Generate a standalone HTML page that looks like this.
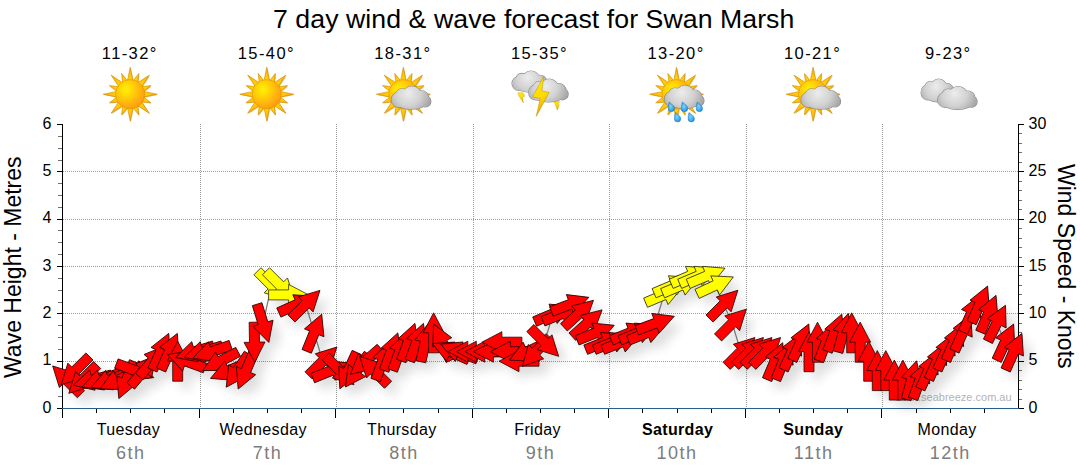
<!DOCTYPE html>
<html><head><meta charset="utf-8"><title>7 day wind &amp; wave forecast for Swan Marsh</title>
<style>
html,body{margin:0;padding:0;background:#fff;}
body{width:1080px;height:475px;position:relative;overflow:hidden;font-family:"Liberation Sans",sans-serif;color:#000;}
.t{position:absolute;white-space:nowrap;line-height:1;}
.title{font-size:26.67px;letter-spacing:0.07px;left:273px;top:6.3px;width:520px;text-align:center;}
.temp{font-size:16.5px;letter-spacing:1.4px;width:80px;text-align:center;top:44.5px;}
.day{font-size:16px;letter-spacing:0.35px;width:120px;text-align:center;top:422px;}
.dt{font-size:18px;letter-spacing:1.5px;width:120px;text-align:center;top:443.5px;color:#7c7c7c;}
.yl{font-size:16px;width:30px;text-align:right;left:21.5px;}
.yr{font-size:16px;left:1028.5px;}
.axl{font-size:23px;transform-origin:0 0;}
svg{position:absolute;left:0;top:0;}
</style></head><body>
<div class="t title">7 day wind &amp; wave forecast for Swan Marsh</div>
<div class="t temp" style="left:89.8px">11-32°</div>
<div class="t day" style="left:68.4px">Tuesday</div>
<div class="t dt" style="left:70.8px">6th</div>
<div class="t temp" style="left:226.4px">15-40°</div>
<div class="t day" style="left:203.1px">Wednesday</div>
<div class="t dt" style="left:207.4px">7th</div>
<div class="t temp" style="left:362.9px">18-31°</div>
<div class="t day" style="left:341.8px">Thursday</div>
<div class="t dt" style="left:343.9px">8th</div>
<div class="t temp" style="left:499.5px">15-35°</div>
<div class="t day" style="left:477.6px">Friday</div>
<div class="t dt" style="left:480.5px">9th</div>
<div class="t temp" style="left:636.1px">13-20°</div>
<div class="t day" style="left:617.6px;font-weight:bold">Saturday</div>
<div class="t dt" style="left:617.1px">10th</div>
<div class="t temp" style="left:772.6px">10-21°</div>
<div class="t day" style="left:753.3px;font-weight:bold">Sunday</div>
<div class="t dt" style="left:753.6px">11th</div>
<div class="t temp" style="left:908.3px">9-23°</div>
<div class="t day" style="left:887px">Monday</div>
<div class="t dt" style="left:890.2px">12th</div>
<div class="t yl" style="top:399.7px">0</div>
<div class="t yl" style="top:352.4px">1</div>
<div class="t yl" style="top:305px">2</div>
<div class="t yl" style="top:257.7px">3</div>
<div class="t yl" style="top:210.4px">4</div>
<div class="t yl" style="top:163px">5</div>
<div class="t yl" style="top:115.7px">6</div>
<div class="t yr" style="top:399.7px">0</div>
<div class="t yr" style="top:352.4px">5</div>
<div class="t yr" style="top:305px">10</div>
<div class="t yr" style="top:257.7px">15</div>
<div class="t yr" style="top:210.4px">20</div>
<div class="t yr" style="top:163px">25</div>
<div class="t yr" style="top:115.7px">30</div>
<div class="t axl" style="left:2px;top:378px;transform:rotate(-90deg)">Wave Height - Metres</div>
<div class="t axl" style="left:1077.3px;top:164px;transform:rotate(90deg)">Wind Speed - Knots</div>
<svg width="1080" height="475" viewBox="0 0 1080 475">
<defs>
<path id="a" d="M-20-5H0V-10.5L20 0 0 10.5V5H-20Z"/>
<path id="h" d="M0-10.5L20 0 0 10.5Z"/>
<filter id="sh" x="-5%" y="-20%" width="110%" height="150%"><feGaussianBlur stdDeviation="5.5"/></filter>
<style>.y{fill:#ff0;stroke:#33330a}</style>
</defs>
<path d="M63 361.5H1018M63 313.5H1018M63 266.5H1018M63 219.5H1018M63 171.5H1018M200.5 124V408M336.5 124V408M473.5 124V408M609.5 124V408M746.5 124V408M882.5 124V408" stroke="#9a9a9a" stroke-width="1" stroke-dasharray="1 1" fill="none" shape-rendering="crispEdges"/>
<defs><radialGradient id="disc" cx="0.36" cy="0.34" r="0.72"><stop offset="0" stop-color="#fff200"/><stop offset="0.45" stop-color="#ffc90a"/><stop offset="1" stop-color="#ff9616"/></radialGradient><radialGradient id="ray" gradientUnits="userSpaceOnUse" cx="0" cy="0" r="27"><stop offset="0.5" stop-color="#ffd400"/><stop offset="1" stop-color="#ffab10"/></radialGradient><radialGradient id="cg" gradientUnits="userSpaceOnUse" cx="5" cy="-1" r="25"><stop offset="0" stop-color="#ececec"/><stop offset="0.5" stop-color="#d2d2d2"/><stop offset="1" stop-color="#9f9f9f"/></radialGradient><linearGradient id="bolt" x1="0" y1="0" x2="0.3" y2="1"><stop offset="0" stop-color="#ffe800"/><stop offset="0.6" stop-color="#ffdc00"/><stop offset="1" stop-color="#f0a000"/></linearGradient><radialGradient id="drop" cx="0.4" cy="0.45" r="0.7"><stop offset="0" stop-color="#7fd4ff"/><stop offset="1" stop-color="#1188d8"/></radialGradient><g id="sun"><path d="M-2.81 -13.2 0 -27 2.81 -13.2 2.65 -13.24 8.61 -20.79 7.49 -11.23 7.35 -11.33 19.09 -19.09 11.33 -7.35 11.23 -7.49 20.79 -8.61 13.24 -2.65 13.2 -2.81 27 0 13.2 2.81 13.24 2.65 20.79 8.61 11.23 7.49 11.33 7.35 19.09 19.09 7.35 11.33 7.49 11.23 8.61 20.79 2.65 13.24 2.81 13.2 0 27 -2.81 13.2 -2.65 13.24 -8.61 20.79 -7.49 11.23 -7.35 11.33 -19.09 19.09 -11.33 7.35 -11.23 7.49 -20.79 8.61 -13.24 2.65 -13.2 2.81 -27 0 -13.2 -2.81 -13.24 -2.65 -20.79 -8.61 -11.23 -7.49 -11.33 -7.35 -19.09 -19.09 -7.35 -11.33 -7.49 -11.23 -8.61 -20.79 -2.65 -13.24Z" fill="#c98200" opacity="0.55" transform="translate(0.7 0.8)"/><path d="M-2.81 -13.2 0 -27 2.81 -13.2 2.65 -13.24 8.61 -20.79 7.49 -11.23 7.35 -11.33 19.09 -19.09 11.33 -7.35 11.23 -7.49 20.79 -8.61 13.24 -2.65 13.2 -2.81 27 0 13.2 2.81 13.24 2.65 20.79 8.61 11.23 7.49 11.33 7.35 19.09 19.09 7.35 11.33 7.49 11.23 8.61 20.79 2.65 13.24 2.81 13.2 0 27 -2.81 13.2 -2.65 13.24 -8.61 20.79 -7.49 11.23 -7.35 11.33 -19.09 19.09 -11.33 7.35 -11.23 7.49 -20.79 8.61 -13.24 2.65 -13.2 2.81 -27 0 -13.2 -2.81 -13.24 -2.65 -20.79 -8.61 -11.23 -7.49 -11.33 -7.35 -19.09 -19.09 -7.35 -11.33 -7.49 -11.23 -8.61 -20.79 -2.65 -13.24Z" fill="url(#ray)" stroke="#cf8c00" stroke-width="0.6" stroke-linejoin="round"/><circle r="14.6" fill="url(#disc)" stroke="#e08a00" stroke-width="0.5"/></g><g id="cl"><g stroke="#8a8a8a" stroke-width="1.2" fill="none"><circle cx="-4.5" cy="5.5" r="7.4"/><circle cx="-1.5" cy="0.6" r="6"/><circle cx="8.5" cy="1.6" r="9.5"/><circle cx="18.3" cy="3.6" r="7"/><circle cx="21.9" cy="7.2" r="5.6"/><ellipse cx="8" cy="8.4" rx="15" ry="6.5"/></g><g fill="url(#cg)"><circle cx="-4.5" cy="5.5" r="7.4"/><circle cx="-1.5" cy="0.6" r="6"/><circle cx="8.5" cy="1.6" r="9.5"/><circle cx="18.3" cy="3.6" r="7"/><circle cx="21.9" cy="7.2" r="5.6"/><ellipse cx="8" cy="8.4" rx="15" ry="6.5"/></g></g><path id="dr" d="M-2.3-4.7C-0.4-3.2 3.2-1.1 3.2 1.7A3.2 3.2 0 0 1-3.2 1.7C-3.2-0.6-2.8-2.8-2.3-4.7Z" fill="url(#drop)" stroke="#0b6fb8" stroke-width="0.4"/></defs>
<use href="#sun" x="130.19" y="94.2"/>
<use href="#sun" x="266.76" y="94.2"/>
<use href="#sun" x="403.33" y="94.2"/><use href="#cl" x="403.33" y="94.2"/>
<use href="#sun" x="813.04" y="94.2"/><use href="#cl" x="813.04" y="94.2"/>
<g transform="translate(539.9 94.2)"><path d="M-22-1.5H-17L-15 2-17.5 2.6-16.5 8.8-20.8 2Z" fill="url(#bolt)" stroke="#c9a000" stroke-width="0.4"/><path d="M13.3 7 19.9 7.6 17.8 10.2 19.4 10.6 17.4 16 15.2 9.6Z" fill="url(#bolt)" stroke="#c9a000" stroke-width="0.4"/><use href="#cl" transform="translate(-16.8 -15.8) scale(0.93)"/><use href="#cl" transform="translate(0.7 -7.2)"/><path d="M4-18.3 -7.3 2.6 0.3 4.4 -3.7 22.2 9.3-1.8 1.9-3.3Z" fill="url(#bolt)" stroke="#b89400" stroke-width="0.5" stroke-linejoin="round"/></g>
<use href="#sun" x="676.47" y="94.2"/><use href="#cl" x="676.47" y="93.4"/><use href="#dr" x="671.37" y="106.8"/><use href="#dr" x="684.57" y="106.8"/><use href="#dr" x="699.37" y="106.8"/><use href="#dr" x="677.57" y="117.1"/><use href="#dr" x="691.27" y="117.1"/>
<use href="#cl" transform="translate(931.41 86.9) scale(0.87 1)"/><use href="#cl" x="949.61" y="94.4"/>
<text x="1011.6" y="400.6" font-size="11" fill="#b4b4b4" text-anchor="end" font-family="Liberation Sans, sans-serif">www.seabreeze.com.au</text>
<path d="M62.5 124V409M1018.5 124V409M57 408.5H63M57 361.5H63M57 313.5H63M57 266.5H63M57 219.5H63M57 171.5H63M57 124.5H63M1018 408.5H1024M1018 361.5H1024M1018 313.5H1024M1018 266.5H1024M1018 219.5H1024M1018 171.5H1024M1018 124.5H1024" stroke="#000" stroke-width="1" fill="none" shape-rendering="crispEdges"/>
<path d="M58 396.5H62M58 384.5H62M58 372.5H62M58 349.5H62M58 337.5H62M58 325.5H62M58 302.5H62M58 290.5H62M58 278.5H62M58 254.5H62M58 242.5H62M58 230.5H62M58 207.5H62M58 195.5H62M58 183.5H62M58 160.5H62M58 148.5H62M58 136.5H62M1019 399.5H1022M1019 389.5H1022M1019 380.5H1022M1019 370.5H1022M1019 351.5H1022M1019 342.5H1022M1019 332.5H1022M1019 323.5H1022M1019 304.5H1022M1019 294.5H1022M1019 285.5H1022M1019 275.5H1022M1019 257.5H1022M1019 247.5H1022M1019 238.5H1022M1019 228.5H1022M1019 209.5H1022M1019 200.5H1022M1019 190.5H1022M1019 181.5H1022M1019 162.5H1022M1019 152.5H1022M1019 143.5H1022M1019 133.5H1022" stroke="#6e6e6e" stroke-width="1" fill="none" shape-rendering="crispEdges"/>
<path d="M62 408.5H1019" stroke="#26608e" stroke-width="1" fill="none" shape-rendering="crispEdges"/>
<path d="M62.5 409V418M199.5 409V418M335.5 409V418M472.5 409V418M608.5 409V418M745.5 409V418M881.5 409V418M96.5 409V413M130.5 409V413M164.5 409V413M233.5 409V413M267.5 409V413M301.5 409V413M369.5 409V413M403.5 409V413M438.5 409V413M506.5 409V413M540.5 409V413M574.5 409V413M642.5 409V413M677.5 409V413M711.5 409V413M779.5 409V413M813.5 409V413M847.5 409V413M916.5 409V413M950.5 409V413M984.5 409V413" stroke="#000" stroke-width="1" fill="none" shape-rendering="crispEdges"/>
<g filter="url(#sh)" opacity="0.135" fill="#000" transform="translate(8 8)"><use href="#a" transform="translate(66.8 380.1) rotate(-135)"/><use href="#a" transform="translate(75.3 370.6) rotate(135)"/><use href="#a" transform="translate(83 379.2) rotate(135)"/><use href="#a" transform="translate(92.4 380.1) rotate(165)"/><use href="#a" transform="translate(100.9 380.1) rotate(160)"/><use href="#a" transform="translate(109.5 380.1) rotate(158)"/><use href="#a" transform="translate(118 380.1) rotate(154)"/><use href="#a" transform="translate(126.5 380.1) rotate(112.5)"/><use href="#a" transform="translate(135.1 370.6) rotate(20.6)"/><use href="#a" transform="translate(143.6 370.6) rotate(-50)"/><use href="#a" transform="translate(152.1 361.2) rotate(-50)"/><use href="#a" transform="translate(160.6 351.7) rotate(-66)"/><use href="#a" transform="translate(169.2 351.7) rotate(-66)"/><use href="#a" transform="translate(177.7 361.2) rotate(-90)"/><use href="#a" transform="translate(186.2 361.2) rotate(-160)"/><use href="#a" transform="translate(194.8 351.7) rotate(163)"/><use href="#a" transform="translate(203.3 351.7) rotate(163)"/><use href="#a" transform="translate(211.8 351.7) rotate(161)"/><use href="#a" transform="translate(220.4 361.2) rotate(152)"/><use href="#a" transform="translate(228.9 370.6) rotate(157)"/><use href="#a" transform="translate(237.4 370.6) rotate(124)"/><use href="#a" transform="translate(246 370.6) rotate(113)"/><use href="#a" transform="translate(254.5 342.2) rotate(89)"/><use href="#a" transform="translate(263 323.3) rotate(73)"/><use href="#a" transform="translate(271.6 285.4) rotate(45)"/><use href="#a" transform="translate(280.1 285.4) rotate(45)"/><use href="#a" transform="translate(288.6 294.9) rotate(0)"/><use href="#a" transform="translate(297.1 304.4) rotate(-24)"/><use href="#a" transform="translate(305.7 304.4) rotate(-44.5)"/><use href="#a" transform="translate(314.2 332.8) rotate(-68)"/><use href="#a" transform="translate(322.7 361.2) rotate(-45)"/><use href="#a" transform="translate(331.3 370.6) rotate(-22)"/><use href="#a" transform="translate(339.8 370.6) rotate(45)"/><use href="#a" transform="translate(348.3 370.6) rotate(115)"/><use href="#a" transform="translate(356.9 370.6) rotate(125)"/><use href="#a" transform="translate(365.4 361.2) rotate(139)"/><use href="#a" transform="translate(373.9 370.6) rotate(-135)"/><use href="#a" transform="translate(382.5 361.2) rotate(-70)"/><use href="#a" transform="translate(391 351.7) rotate(-70)"/><use href="#a" transform="translate(399.5 351.7) rotate(-70)"/><use href="#a" transform="translate(408.1 342.2) rotate(-70)"/><use href="#a" transform="translate(416.6 342.2) rotate(-70)"/><use href="#a" transform="translate(425.1 342.2) rotate(-78)"/><use href="#a" transform="translate(433.6 332.8) rotate(-90)"/><use href="#a" transform="translate(442.2 342.2) rotate(-115)"/><use href="#a" transform="translate(450.7 351.7) rotate(-156)"/><use href="#a" transform="translate(459.2 351.7) rotate(-158)"/><use href="#a" transform="translate(467.8 351.7) rotate(180)"/><use href="#a" transform="translate(476.3 351.7) rotate(180)"/><use href="#a" transform="translate(484.8 351.7) rotate(180)"/><use href="#a" transform="translate(493.4 351.7) rotate(180)"/><use href="#a" transform="translate(501.9 342.2) rotate(180)"/><use href="#a" transform="translate(510.4 351.7) rotate(180)"/><use href="#a" transform="translate(519 361.2) rotate(180)"/><use href="#a" transform="translate(527.5 351.7) rotate(155)"/><use href="#a" transform="translate(536 351.7) rotate(133)"/><use href="#a" transform="translate(544.5 342.2) rotate(45)"/><use href="#a" transform="translate(553.1 313.8) rotate(-23)"/><use href="#a" transform="translate(561.6 313.8) rotate(-22)"/><use href="#a" transform="translate(570.1 304.4) rotate(-20.7)"/><use href="#a" transform="translate(578.7 313.8) rotate(-42.4)"/><use href="#a" transform="translate(587.2 323.3) rotate(-42)"/><use href="#a" transform="translate(595.7 332.8) rotate(-22)"/><use href="#a" transform="translate(604.3 342.2) rotate(-22)"/><use href="#a" transform="translate(612.8 342.2) rotate(-22)"/><use href="#a" transform="translate(621.3 342.2) rotate(-22)"/><use href="#a" transform="translate(629.9 332.8) rotate(-22)"/><use href="#a" transform="translate(638.4 332.8) rotate(-22)"/><use href="#a" transform="translate(646.9 332.8) rotate(-22)"/><use href="#a" transform="translate(655.5 323.3) rotate(-20.4)"/><use href="#a" transform="translate(664 294.9) rotate(-23)"/><use href="#a" transform="translate(672.5 285.4) rotate(-23)"/><use href="#a" transform="translate(681 285.4) rotate(-23)"/><use href="#a" transform="translate(689.6 276) rotate(-23)"/><use href="#a" transform="translate(698.1 276) rotate(-23)"/><use href="#a" transform="translate(706.6 276) rotate(-23)"/><use href="#a" transform="translate(715.2 285.4) rotate(-25)"/><use href="#a" transform="translate(723.7 304.4) rotate(-45)"/><use href="#a" transform="translate(732.2 323.3) rotate(-45)"/><use href="#a" transform="translate(740.8 351.7) rotate(-45)"/><use href="#a" transform="translate(749.3 351.7) rotate(-45)"/><use href="#a" transform="translate(757.8 351.7) rotate(-45)"/><use href="#a" transform="translate(766.4 351.7) rotate(-45)"/><use href="#a" transform="translate(774.9 361.2) rotate(-67)"/><use href="#a" transform="translate(783.4 361.2) rotate(-68)"/><use href="#a" transform="translate(792 351.7) rotate(-65)"/><use href="#a" transform="translate(800.5 342.2) rotate(-65.5)"/><use href="#a" transform="translate(809 351.7) rotate(-90)"/><use href="#a" transform="translate(817.5 342.2) rotate(-90)"/><use href="#a" transform="translate(826.1 342.2) rotate(-69)"/><use href="#a" transform="translate(834.6 332.8) rotate(-69)"/><use href="#a" transform="translate(843.1 332.8) rotate(-75)"/><use href="#a" transform="translate(851.7 332.8) rotate(-90)"/><use href="#a" transform="translate(860.2 342.2) rotate(-90)"/><use href="#a" transform="translate(868.7 361.2) rotate(-90)"/><use href="#a" transform="translate(877.3 370.6) rotate(-90)"/><use href="#a" transform="translate(885.8 370.6) rotate(-90)"/><use href="#a" transform="translate(894.3 380.1) rotate(-90)"/><use href="#a" transform="translate(902.9 380.1) rotate(-90)"/><use href="#a" transform="translate(911.4 380.1) rotate(-75)"/><use href="#a" transform="translate(919.9 380.1) rotate(-70)"/><use href="#a" transform="translate(928.5 370.6) rotate(-66)"/><use href="#a" transform="translate(937 361.2) rotate(-66)"/><use href="#a" transform="translate(945.5 351.7) rotate(-66)"/><use href="#a" transform="translate(954 342.2) rotate(-66)"/><use href="#a" transform="translate(962.6 332.8) rotate(-66)"/><use href="#a" transform="translate(971.1 313.8) rotate(-66)"/><use href="#a" transform="translate(979.6 304.4) rotate(-66.4)"/><use href="#a" transform="translate(988.2 313.8) rotate(-67)"/><use href="#a" transform="translate(996.7 323.3) rotate(-64)"/><use href="#a" transform="translate(1005.2 342.2) rotate(-65)"/><use href="#a" transform="translate(1013.8 351.7) rotate(-66)"/></g>
<polyline points="66.8,380.1 75.3,370.6 83,379.2 92.4,380.1 100.9,380.1 109.5,380.1 118,380.1 126.5,380.1 135.1,370.6 143.6,370.6 152.1,361.2 160.6,351.7 169.2,351.7 177.7,361.2 186.2,361.2 194.8,351.7 203.3,351.7 211.8,351.7 220.4,361.2 228.9,370.6 237.4,370.6 246,370.6 254.5,342.2 263,323.3 271.6,285.4 280.1,285.4 288.6,294.9 297.1,304.4 305.7,304.4 314.2,332.8 322.7,361.2 331.3,370.6 339.8,370.6 348.3,370.6 356.9,370.6 365.4,361.2 373.9,370.6 382.5,361.2 391,351.7 399.5,351.7 408.1,342.2 416.6,342.2 425.1,342.2 433.6,332.8 442.2,342.2 450.7,351.7 459.2,351.7 467.8,351.7 476.3,351.7 484.8,351.7 493.4,351.7 501.9,342.2 510.4,351.7 519,361.2 527.5,351.7 536,351.7 544.5,342.2 553.1,313.8 561.6,313.8 570.1,304.4 578.7,313.8 587.2,323.3 595.7,332.8 604.3,342.2 612.8,342.2 621.3,342.2 629.9,332.8 638.4,332.8 646.9,332.8 655.5,323.3 664,294.9 672.5,285.4 681,285.4 689.6,276 698.1,276 706.6,276 715.2,285.4 723.7,304.4 732.2,323.3 740.8,351.7 749.3,351.7 757.8,351.7 766.4,351.7 774.9,361.2 783.4,361.2 792,351.7 800.5,342.2 809,351.7 817.5,342.2 826.1,342.2 834.6,332.8 843.1,332.8 851.7,332.8 860.2,342.2 868.7,361.2 877.3,370.6 885.8,370.6 894.3,380.1 902.9,380.1 911.4,380.1 919.9,380.1 928.5,370.6 937,361.2 945.5,351.7 954,342.2 962.6,332.8 971.1,313.8 979.6,304.4 988.2,313.8 996.7,323.3 1005.2,342.2 1013.8,351.7" fill="none" stroke="#767676" stroke-width="1.25"/>
<g fill="#f00" stroke="#2a0000" stroke-width="0.8" stroke-linejoin="miter"><use href="#a" transform="translate(66.8 380.1) rotate(-135)"/>
<use href="#a" transform="translate(75.3 370.6) rotate(135)"/>
<use href="#a" transform="translate(83 379.2) rotate(135)"/>
<use href="#a" transform="translate(92.4 380.1) rotate(165)"/>
<use href="#a" transform="translate(100.9 380.1) rotate(160)"/>
<use href="#a" transform="translate(109.5 380.1) rotate(158)"/>
<use href="#a" transform="translate(118 380.1) rotate(154)"/>
<use href="#a" transform="translate(126.5 380.1) rotate(112.5)"/>
<use href="#a" transform="translate(135.1 370.6) rotate(20.6)"/>
<use href="#a" transform="translate(143.6 370.6) rotate(-50)"/>
<use href="#a" transform="translate(152.1 361.2) rotate(-50)"/>
<use href="#a" transform="translate(160.6 351.7) rotate(-66)"/>
<use href="#a" transform="translate(169.2 351.7) rotate(-66)"/>
<use href="#a" transform="translate(177.7 361.2) rotate(-90)"/>
<use href="#a" transform="translate(186.2 361.2) rotate(-160)"/>
<use href="#a" transform="translate(194.8 351.7) rotate(163)"/>
<use href="#a" transform="translate(203.3 351.7) rotate(163)"/>
<use href="#a" transform="translate(211.8 351.7) rotate(161)"/>
<use href="#a" transform="translate(220.4 361.2) rotate(152)"/>
<use href="#a" transform="translate(228.9 370.6) rotate(157)"/>
<use href="#a" transform="translate(237.4 370.6) rotate(124)"/>
<use href="#a" transform="translate(246 370.6) rotate(113)"/>
<use href="#a" transform="translate(254.5 342.2) rotate(89)"/>
<use href="#a" transform="translate(263 323.3) rotate(73)"/>
<use href="#a" transform="translate(271.6 285.4) rotate(45)" class="y"/>
<use href="#a" transform="translate(280.1 285.4) rotate(45)" class="y"/>
<use href="#a" transform="translate(288.6 294.9) rotate(0)" class="y"/>
<use href="#a" transform="translate(297.1 304.4) rotate(-24)"/>
<use href="#a" transform="translate(305.7 304.4) rotate(-44.5)"/>
<use href="#a" transform="translate(314.2 332.8) rotate(-68)"/>
<use href="#a" transform="translate(322.7 361.2) rotate(-45)"/>
<use href="#a" transform="translate(331.3 370.6) rotate(-22)"/>
<use href="#a" transform="translate(339.8 370.6) rotate(45)"/>
<use href="#a" transform="translate(348.3 370.6) rotate(115)"/>
<use href="#a" transform="translate(356.9 370.6) rotate(125)"/>
<use href="#a" transform="translate(365.4 361.2) rotate(139)"/>
<use href="#a" transform="translate(373.9 370.6) rotate(-135)"/>
<use href="#a" transform="translate(382.5 361.2) rotate(-70)"/>
<use href="#a" transform="translate(391 351.7) rotate(-70)"/>
<use href="#a" transform="translate(399.5 351.7) rotate(-70)"/>
<use href="#a" transform="translate(408.1 342.2) rotate(-70)"/>
<use href="#a" transform="translate(416.6 342.2) rotate(-70)"/>
<use href="#a" transform="translate(425.1 342.2) rotate(-78)"/>
<use href="#a" transform="translate(433.6 332.8) rotate(-90)"/>
<use href="#a" transform="translate(442.2 342.2) rotate(-115)"/>
<use href="#a" transform="translate(450.7 351.7) rotate(-156)"/>
<use href="#a" transform="translate(459.2 351.7) rotate(-158)"/>
<use href="#a" transform="translate(467.8 351.7) rotate(180)"/>
<use href="#a" transform="translate(476.3 351.7) rotate(180)"/>
<use href="#a" transform="translate(484.8 351.7) rotate(180)"/>
<use href="#a" transform="translate(493.4 351.7) rotate(180)"/>
<use href="#a" transform="translate(501.9 342.2) rotate(180)"/>
<use href="#a" transform="translate(510.4 351.7) rotate(180)"/>
<use href="#a" transform="translate(519 361.2) rotate(180)"/>
<use href="#a" transform="translate(527.5 351.7) rotate(155)"/>
<use href="#a" transform="translate(536 351.7) rotate(133)"/>
<use href="#a" transform="translate(544.5 342.2) rotate(45)"/>
<use href="#a" transform="translate(553.1 313.8) rotate(-23)"/>
<use href="#a" transform="translate(561.6 313.8) rotate(-22)"/>
<use href="#a" transform="translate(570.1 304.4) rotate(-20.7)"/>
<use href="#a" transform="translate(578.7 313.8) rotate(-42.4)"/>
<use href="#a" transform="translate(587.2 323.3) rotate(-42)"/>
<use href="#a" transform="translate(595.7 332.8) rotate(-22)"/>
<use href="#a" transform="translate(604.3 342.2) rotate(-22)"/>
<use href="#a" transform="translate(612.8 342.2) rotate(-22)"/>
<use href="#a" transform="translate(621.3 342.2) rotate(-22)"/>
<use href="#a" transform="translate(629.9 332.8) rotate(-22)"/>
<use href="#a" transform="translate(638.4 332.8) rotate(-22)"/>
<use href="#a" transform="translate(646.9 332.8) rotate(-22)"/>
<use href="#a" transform="translate(655.5 323.3) rotate(-20.4)"/>
<use href="#a" transform="translate(664 294.9) rotate(-23)" class="y"/>
<use href="#a" transform="translate(672.5 285.4) rotate(-23)" class="y"/>
<use href="#a" transform="translate(681 285.4) rotate(-23)" class="y"/>
<use href="#a" transform="translate(689.6 276) rotate(-23)" class="y"/>
<use href="#a" transform="translate(698.1 276) rotate(-23)" class="y"/>
<use href="#a" transform="translate(706.6 276) rotate(-23)" class="y"/>
<use href="#a" transform="translate(715.2 285.4) rotate(-25)" class="y"/>
<use href="#a" transform="translate(723.7 304.4) rotate(-45)"/>
<use href="#a" transform="translate(732.2 323.3) rotate(-45)"/>
<use href="#a" transform="translate(740.8 351.7) rotate(-45)"/>
<use href="#a" transform="translate(749.3 351.7) rotate(-45)"/>
<use href="#a" transform="translate(757.8 351.7) rotate(-45)"/>
<use href="#a" transform="translate(766.4 351.7) rotate(-45)"/>
<use href="#a" transform="translate(774.9 361.2) rotate(-67)"/>
<use href="#a" transform="translate(783.4 361.2) rotate(-68)"/>
<use href="#a" transform="translate(792 351.7) rotate(-65)"/>
<use href="#a" transform="translate(800.5 342.2) rotate(-65.5)"/>
<use href="#a" transform="translate(809 351.7) rotate(-90)"/>
<use href="#a" transform="translate(817.5 342.2) rotate(-90)"/>
<use href="#a" transform="translate(826.1 342.2) rotate(-69)"/>
<use href="#a" transform="translate(834.6 332.8) rotate(-69)"/>
<use href="#a" transform="translate(843.1 332.8) rotate(-75)"/>
<use href="#a" transform="translate(851.7 332.8) rotate(-90)"/>
<use href="#a" transform="translate(860.2 342.2) rotate(-90)"/>
<use href="#a" transform="translate(868.7 361.2) rotate(-90)"/>
<use href="#a" transform="translate(877.3 370.6) rotate(-90)"/>
<use href="#a" transform="translate(885.8 370.6) rotate(-90)"/>
<use href="#a" transform="translate(894.3 380.1) rotate(-90)"/>
<use href="#a" transform="translate(902.9 380.1) rotate(-90)"/>
<use href="#a" transform="translate(911.4 380.1) rotate(-75)"/>
<use href="#a" transform="translate(919.9 380.1) rotate(-70)"/>
<use href="#a" transform="translate(928.5 370.6) rotate(-66)"/>
<use href="#a" transform="translate(937 361.2) rotate(-66)"/>
<use href="#a" transform="translate(945.5 351.7) rotate(-66)"/>
<use href="#a" transform="translate(954 342.2) rotate(-66)"/>
<use href="#a" transform="translate(962.6 332.8) rotate(-66)"/>
<use href="#a" transform="translate(971.1 313.8) rotate(-66)"/>
<use href="#a" transform="translate(979.6 304.4) rotate(-66.4)"/>
<use href="#a" transform="translate(988.2 313.8) rotate(-67)"/>
<use href="#a" transform="translate(996.7 323.3) rotate(-64)"/>
<use href="#a" transform="translate(1005.2 342.2) rotate(-65)"/>
<use href="#a" transform="translate(1013.8 351.7) rotate(-66)"/></g>
</svg>
</body></html>
